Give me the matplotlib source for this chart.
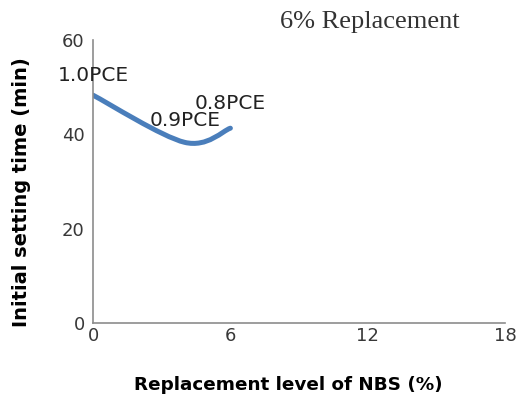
import numpy as np
import matplotlib.pyplot as plt
from matplotlib.path import Path
from matplotlib.patches import PathPatch

# data
pce_labels = ["1.0PCE", "0.9PCE", "0.8PCE"]
replacement = [0, 4, 6]
setting_time = [48.3, 38.3, 41.3]

x_ticks = [0, 6, 12, 18]
y_ticks = [0, 20, 40, 60]

# label offsets in points (labels sit above the points)
label_offsets = [(0, 14.5), (0, 16), (0, 18)]


def smooth_path(xs, ys):
    # excel style smoothed line: cubic bezier through the points
    pts = np.column_stack([xs, ys]).astype(float)
    n = len(pts)
    verts = [pts[0]]
    codes = [Path.MOVETO]
    for i in range(n - 1):
        p0 = pts[max(i - 1, 0)]
        p1 = pts[i]
        p2 = pts[i + 1]
        p3 = pts[min(i + 2, n - 1)]
        c1 = p1 + (p2 - p0) / 6
        c2 = p2 - (p3 - p1) / 6
        verts += [c1, c2, p2]
        codes += [Path.CURVE4] * 3
    return Path(verts, codes)


fig = plt.figure(figsize=(5.26, 4.05), dpi=100)
ax = fig.add_axes([0.177, 0.203, 0.783, 0.698])

patch = PathPatch(smooth_path(replacement, setting_time), fill=False,
                  edgecolor="#4a7ebb", linewidth=3.6, capstyle="round")
ax.add_patch(patch)

for lab, x, y, off in zip(pce_labels, replacement, setting_time, label_offsets):
    ax.annotate(lab, (x, y), xytext=off, textcoords="offset points",
                ha="center", va="center", fontsize=14.5, color="#222222",
                annotation_clip=False)

ax.set_xlim(0, 18)
ax.set_ylim(0, 60)
ax.set_xticks(x_ticks)
ax.set_yticks(y_ticks)
ax.tick_params(length=0, labelsize=13, labelcolor="#383838")
ax.tick_params(axis="x", pad=3)
ax.tick_params(axis="y", pad=6)

for s in ["top", "right"]:
    ax.spines[s].set_visible(False)
for s in ["left", "bottom"]:
    ax.spines[s].set_color("#8c8c8c")
    ax.spines[s].set_linewidth(1.2)

ax.set_xlabel("Replacement level of NBS (%)", fontsize=13.2, fontweight="bold")
ax.set_ylabel("Initial setting time (min)", fontsize=14, fontweight="bold")
ax.xaxis.set_label_coords(0.473, -0.19)
ax.yaxis.set_label_coords(-0.15, 0.461)

fig.text(0.703, 0.946, "6% Replacement", fontsize=19, family="Liberation Serif",
         color="#333333", ha="center", va="center")

fig.savefig("out.png", dpi=100)
